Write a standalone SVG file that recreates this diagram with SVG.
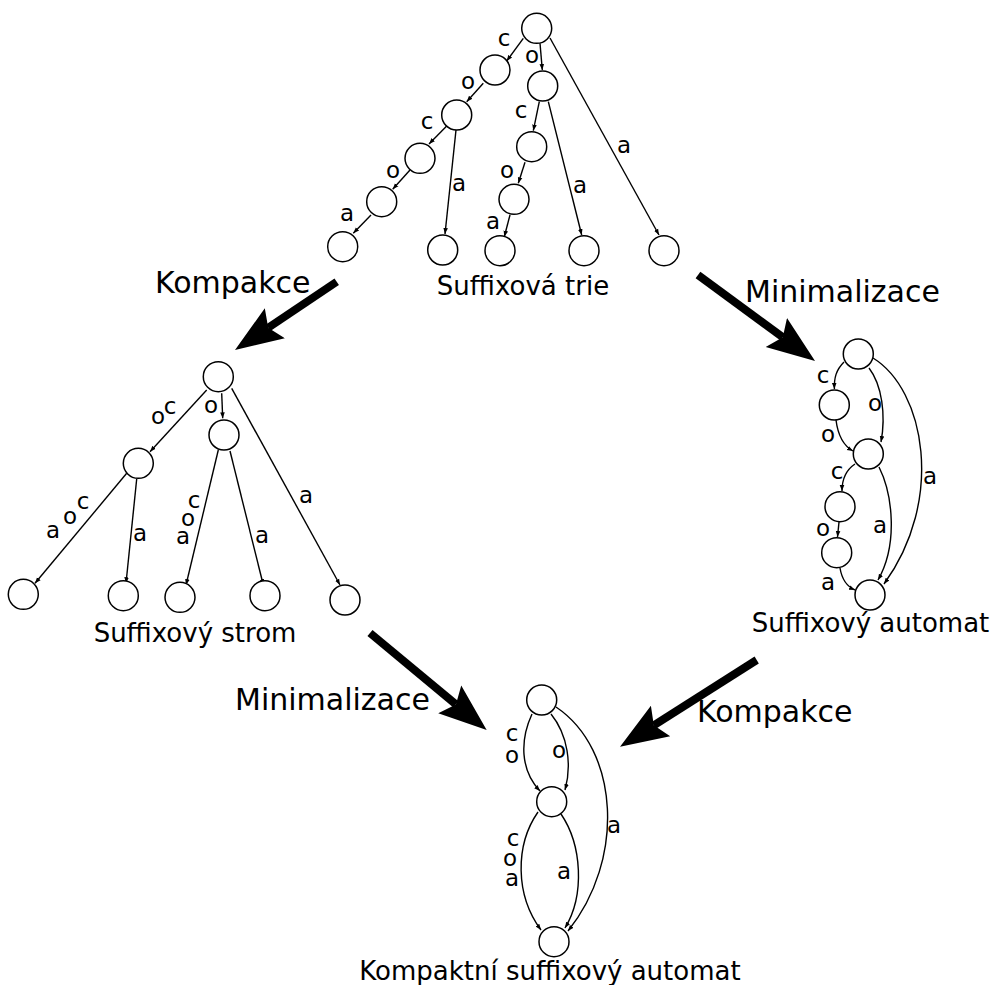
<svg xmlns="http://www.w3.org/2000/svg" width="992" height="985" viewBox="0 0 992 985">
<style>
.n{fill:#fff;stroke:#000;stroke-width:1.5}
.e{fill:none;stroke:#000;stroke-width:1.4;marker-end:url(#ah)}
.big{fill:none;stroke:#000;stroke-width:8;marker-end:url(#bh)}
text{font-family:"DejaVu Sans","Liberation Sans",sans-serif;fill:#000}
.l{font-size:23px;text-anchor:middle}
.cap{font-size:26px;text-anchor:middle}
.op{font-size:30px}
</style>
<defs>
<marker id="ah" markerUnits="userSpaceOnUse" markerWidth="8" markerHeight="8" viewBox="0 -4 8 8" refX="6" refY="0" orient="auto"><path d="M0,-2.3 L6,0 L0,2.3 Z" fill="#000"/></marker>
<marker id="bh" markerUnits="userSpaceOnUse" markerWidth="50" markerHeight="40" viewBox="0 -20 50 40" refX="8" refY="0" orient="auto"><path d="M48,0 L0,-18 L8,0 L0,18 Z" fill="#000"/></marker>
</defs>

<g id="connectors">
<!-- trie -->
<line class="e" x1="523.3" y1="38.3" x2="506.7" y2="61"/>
<line class="e" x1="540" y1="43.3" x2="542.3" y2="70"/>
<line class="e" x1="550" y1="38" x2="659" y2="235"/>
<line class="e" x1="483.3" y1="83.3" x2="466.7" y2="101.7"/>
<line class="e" x1="446.7" y1="126" x2="429" y2="144"/>
<line class="e" x1="456" y1="130" x2="445" y2="234"/>
<line class="e" x1="410" y1="170" x2="392.7" y2="189.3"/>
<line class="e" x1="371" y1="215" x2="353.3" y2="233.3"/>
<line class="e" x1="539.3" y1="101.7" x2="533.3" y2="130.7"/>
<line class="e" x1="548.3" y1="101.7" x2="581.7" y2="235"/>
<line class="e" x1="525" y1="162.3" x2="518.3" y2="183.3"/>
<line class="e" x1="510" y1="215" x2="504.3" y2="236.7"/>
<!-- tree -->
<line class="e" x1="206.7" y1="390" x2="150" y2="451.7"/>
<line class="e" x1="221.7" y1="393.3" x2="222.7" y2="418.3"/>
<line class="e" x1="231.7" y1="388.3" x2="340" y2="585"/>
<line class="e" x1="126.7" y1="473.3" x2="35" y2="583.3"/>
<line class="e" x1="136.7" y1="479" x2="126" y2="583.3"/>
<line class="e" x1="218.3" y1="450" x2="186" y2="585"/>
<line class="e" x1="230" y1="451" x2="263.3" y2="585"/>
<!-- suffix automaton -->
<path class="e" d="M844,362 C836,370 834,378 834.4,389"/>
<path class="e" d="M836,420 C838,436 844,446 853,451"/>
<path class="e" d="M869,368 C882,385 886,415 881,442"/>
<path class="e" d="M873,358 C925,390 945,500 884,584"/>
<path class="e" d="M855,464 C846,470 842,478 842,491"/>
<path class="e" d="M879,467 C893,495 898,545 878,580"/>
<line class="e" x1="839" y1="522" x2="837.5" y2="537"/>
<path class="e" d="M840,568 C842,580 848,587 855,590"/>
<!-- compact suffix automaton -->
<path class="e" d="M532,714 C520,740 520,770 540,791"/>
<path class="e" d="M551,714 C568,735 572,765 565,790"/>
<path class="e" d="M556,707 C620,750 625,860 568,931"/>
<path class="e" d="M538,812 C515,845 515,895 541,930"/>
<path class="e" d="M561,814 C582,845 585,895 565,928"/>
<!-- big transform arrows -->
<line class="big" x1="336.7" y1="281.7" x2="268.2" y2="327.7"/>
<line class="big" x1="698" y1="275" x2="782.8" y2="337.3"/>
<line class="big" x1="370" y1="633" x2="455.9" y2="704.4"/>
<line class="big" x1="756.7" y1="660" x2="653.8" y2="725.3"/>
</g>

<g id="edge-labels">
<text class="l" x="504" y="46">c</text>
<text class="l" x="468" y="89">o</text>
<text class="l" x="427" y="129">c</text>
<text class="l" x="393" y="178">o</text>
<text class="l" x="347" y="221">a</text>
<text class="l" x="459" y="191">a</text>
<text class="l" x="532" y="63">o</text>
<text class="l" x="521" y="118">c</text>
<text class="l" x="507" y="178">o</text>
<text class="l" x="493" y="229">a</text>
<text class="l" x="580" y="193">a</text>
<text class="l" x="624" y="153">a</text>

<text class="l" x="158" y="424">o</text>
<text class="l" x="170" y="414">c</text>
<text class="l" x="211" y="413">o</text>
<text class="l" x="53" y="538">a</text>
<text class="l" x="70" y="524">o</text>
<text class="l" x="83" y="509">c</text>
<text class="l" x="140" y="541">a</text>
<text class="l" x="194" y="508">c</text>
<text class="l" x="188" y="526">o</text>
<text class="l" x="183" y="544">a</text>
<text class="l" x="262" y="543">a</text>
<text class="l" x="306" y="503">a</text>

<text class="l" x="823" y="383">c</text>
<text class="l" x="875" y="411">o</text>
<text class="l" x="828" y="442">o</text>
<text class="l" x="837" y="479">c</text>
<text class="l" x="930" y="484">a</text>
<text class="l" x="823" y="536">o</text>
<text class="l" x="880" y="533">a</text>
<text class="l" x="828" y="590">a</text>

<text class="l" x="512" y="741">c</text>
<text class="l" x="512" y="763">o</text>
<text class="l" x="559" y="758">o</text>
<text class="l" x="614" y="833">a</text>
<text class="l" x="513" y="846">c</text>
<text class="l" x="510" y="866">o</text>
<text class="l" x="512" y="886">a</text>
<text class="l" x="564" y="879">a</text>
</g>

<g id="trie">
<g id="t-root"><circle class="n" cx="536.7" cy="28.3" r="15"/></g>
<g id="t-c"><circle class="n" cx="495" cy="70" r="15"/></g>
<g id="t-co"><circle class="n" cx="456.7" cy="115" r="15"/></g>
<g id="t-coc"><circle class="n" cx="420" cy="158.3" r="15"/></g>
<g id="t-coco"><circle class="n" cx="381.7" cy="201.7" r="15"/></g>
<g id="t-cocoa"><circle class="n" cx="342.7" cy="246.7" r="15"/></g>
<g id="t-coa"><circle class="n" cx="442.7" cy="250" r="15"/></g>
<g id="t-o"><circle class="n" cx="542.7" cy="86" r="15"/></g>
<g id="t-oc"><circle class="n" cx="531.7" cy="146.7" r="15"/></g>
<g id="t-oco"><circle class="n" cx="514" cy="199.3" r="15"/></g>
<g id="t-ocoa"><circle class="n" cx="500" cy="250.7" r="15"/></g>
<g id="t-oa"><circle class="n" cx="584" cy="250.7" r="15"/></g>
<g id="t-a"><circle class="n" cx="664" cy="250.7" r="15"/></g>
<text class="cap" x="523" y="294.5">Suffixová trie</text>
</g>

<g id="tree">
<g id="s-root"><circle class="n" cx="218.3" cy="376.7" r="15"/></g>
<g id="s-co"><circle class="n" cx="138.3" cy="463.3" r="15"/></g>
<g id="s-o"><circle class="n" cx="224" cy="435" r="15"/></g>
<g id="s-l1"><circle class="n" cx="23.3" cy="594.3" r="15"/></g>
<g id="s-l2"><circle class="n" cx="123.3" cy="595.7" r="15"/></g>
<g id="s-l3"><circle class="n" cx="180" cy="597.3" r="15"/></g>
<g id="s-l4"><circle class="n" cx="265" cy="595.7" r="15"/></g>
<g id="s-l5"><circle class="n" cx="345" cy="600" r="15"/></g>
<text class="cap" x="195" y="642">Suffixový strom</text>
</g>

<g id="automaton">
<g id="a-root"><circle class="n" cx="858.3" cy="354" r="15"/></g>
<g id="a-c"><circle class="n" cx="834.3" cy="405" r="15"/></g>
<g id="a-co"><circle class="n" cx="868.3" cy="454" r="15"/></g>
<g id="a-coc"><circle class="n" cx="840" cy="506.7" r="15"/></g>
<g id="a-coco"><circle class="n" cx="836.7" cy="552.7" r="15"/></g>
<g id="a-final"><circle class="n" cx="870" cy="595" r="15"/></g>
<text class="cap" x="870.5" y="631.5">Suffixový automat</text>
</g>

<g id="compact">
<g id="k-root"><circle class="n" cx="541.7" cy="700" r="15"/></g>
<g id="k-mid"><circle class="n" cx="551.7" cy="801.7" r="15"/></g>
<g id="k-final"><circle class="n" cx="554" cy="941.7" r="15"/></g>
<text class="cap" x="550" y="980">Kompaktní suffixový automat</text>
</g>

<g id="operations">
<text class="op" x="155" y="293">Kompakce</text>
<text class="op" x="745" y="302">Minimalizace</text>
<text class="op" x="235" y="710">Minimalizace</text>
<text class="op" x="697" y="722">Kompakce</text>
</g>
</svg>
